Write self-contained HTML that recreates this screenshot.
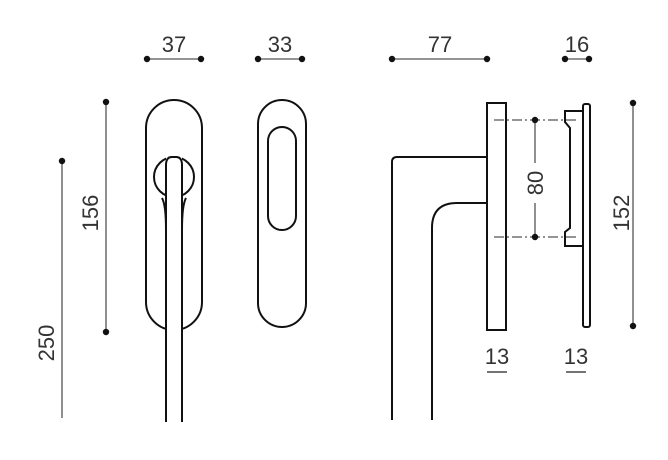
<!DOCTYPE html>
<html><head><style>
html,body{margin:0;padding:0;background:#fff;}
svg{display:block;}
text{font-family:"Liberation Sans",sans-serif;font-size:22px;fill:#333;}
</style></head><body>
<svg width="668" height="460" viewBox="0 0 668 460" xmlns="http://www.w3.org/2000/svg">
<g stroke="#555" stroke-width="1.3" fill="none">
<line x1="147" y1="59" x2="201" y2="59"/>
<line x1="258" y1="59" x2="302" y2="59"/>
<line x1="392" y1="59" x2="487" y2="59"/>
<line x1="565" y1="59" x2="589" y2="59"/>
<line x1="106" y1="102" x2="106" y2="332"/>
<line x1="62" y1="161" x2="62" y2="418"/>
<line x1="633" y1="103" x2="633" y2="326"/>
<line x1="535" y1="120" x2="535" y2="163"/>
<line x1="535" y1="203" x2="535" y2="237"/>
<line x1="494" y1="120" x2="578" y2="120" stroke-dasharray="10,3,2,3"/>
<line x1="494" y1="237" x2="578" y2="237" stroke-dasharray="10,3,2,3"/>
</g>
<g fill="#111">
<circle cx="147" cy="59" r="3.2"/><circle cx="201" cy="59" r="3.2"/>
<circle cx="258" cy="59" r="3.2"/><circle cx="302" cy="59" r="3.2"/>
<circle cx="392" cy="59" r="3.2"/><circle cx="487" cy="59" r="3.2"/>
<circle cx="565" cy="59" r="3.2"/><circle cx="589" cy="59" r="3.2"/>
<circle cx="106" cy="102" r="3.2"/><circle cx="106" cy="332" r="3.2"/>
<circle cx="62" cy="161" r="3.2"/>
<circle cx="633" cy="103" r="3.2"/><circle cx="633" cy="326" r="3.2"/>
<circle cx="535" cy="120" r="3.2"/><circle cx="535" cy="237" r="3.2"/>
</g>
<g stroke="#111" stroke-width="2" fill="none">
<rect x="146" y="100" width="56" height="230" rx="28"/>
<circle cx="174" cy="177" r="20"/>
<rect x="258" y="100" width="48" height="227" rx="24"/>
<rect x="268" y="127" width="28" height="103" rx="14"/>
<path d="M392 420 V162 Q392 157 397 157 H487"/>
<path d="M432 420 V228 Q432 203 457 203 H487"/>
<rect x="487" y="103" width="19" height="227"/>
<rect x="583" y="104" width="7" height="223" rx="2"/>
<path d="M583 111 H565 V122 L570 128 V228 L565 232 V246 H583"/>
</g>
<rect x="166" y="157" width="16" height="265" fill="#fff" stroke="none"/>
<g stroke="#111" stroke-width="2" fill="none">
<path d="M166 422 V165 Q166 157 172 157 H176 Q182 157 182 165 V422"/>
<path d="M166 230 Q166 205 162 198 M182 230 Q182 205 186 198"/>
</g>
<text x="174" y="52" text-anchor="middle">37</text>
<text x="280" y="52" text-anchor="middle">33</text>
<text x="440" y="52" text-anchor="middle">77</text>
<text x="577" y="52" text-anchor="middle">16</text>
<text transform="translate(98,213) rotate(-90)" text-anchor="middle">156</text>
<text transform="translate(54,343) rotate(-90)" text-anchor="middle">250</text>
<text transform="translate(629,213) rotate(-90)" text-anchor="middle">152</text>
<text transform="translate(543,183) rotate(-90)" text-anchor="middle">80</text>
<text x="497" y="364" text-anchor="middle">13</text>
<text x="576" y="364" text-anchor="middle">13</text>
<g stroke="#222" stroke-width="1.3">
<line x1="487" y1="372" x2="507" y2="372"/>
<line x1="566" y1="372" x2="586" y2="372"/>
</g>
</svg>
</body></html>
